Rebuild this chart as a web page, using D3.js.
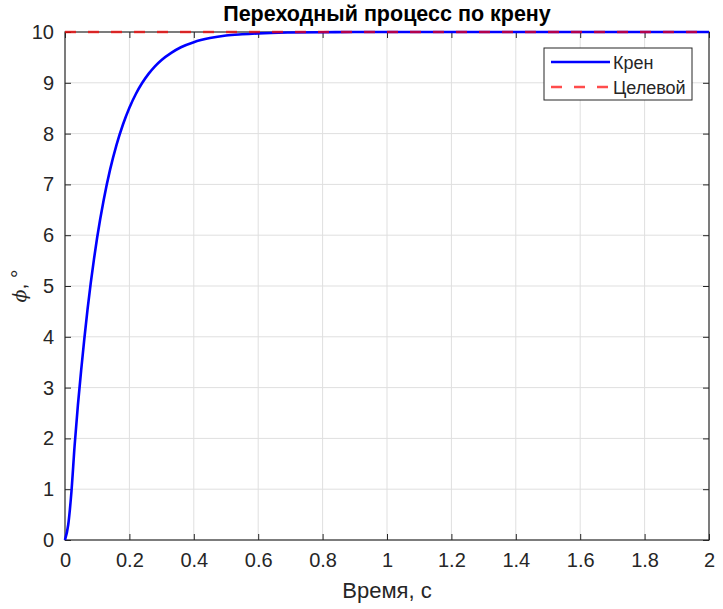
<!DOCTYPE html>
<html>
<head>
  <meta charset="utf-8">
  <script src="https://cdn.jsdelivr.net/npm/d3@7"></script>
  <style>
    body { margin: 0; background: #fff; }
    text { font-family: "Liberation Sans", Arial, sans-serif; fill: #262626; }
  </style>
</head>
<body>
<script>
// values
var timeS = [0, 0.01, 0.02, 0.03, 0.04, 0.05, 0.06, 0.07, 0.08, 0.09, 0.10,
             0.12, 0.14, 0.16, 0.18, 0.20, 0.22, 0.24, 0.26, 0.28, 0.30,
             0.33, 0.36, 0.40, 0.45, 0.50, 0.55, 0.60, 0.70, 0.80, 0.90, 1.0, 1.5, 2.0];
var rollDeg = [0, 0.3, 0.95, 1.87, 2.65, 3.33, 3.96, 4.54, 5.06, 5.53, 5.96,
               6.69, 7.29, 7.78, 8.18, 8.51, 8.78, 9.0, 9.18, 9.33, 9.45,
               9.59, 9.7, 9.8, 9.88, 9.93, 9.955, 9.973, 9.99, 9.996, 10, 10, 10, 10];
var targetDeg = 10;
var xTicks = [0, 0.2, 0.4, 0.6, 0.8, 1, 1.2, 1.4, 1.6, 1.8, 2];
var yTicks = [0, 1, 2, 3, 4, 5, 6, 7, 8, 9, 10];
var seriesNames = ["Крен", "Целевой"];

var W = 723, H = 609;
var pLeft = 65, pRight = 709, pTop = 32, pBottom = 540;

var svg = d3.select("body").append("svg")
  .attr("width", W).attr("height", H);

var x = d3.scaleLinear().domain([0, 2]).range([pLeft, pRight]);
var y = d3.scaleLinear().domain([0, 10]).range([pBottom, pTop]);

/*
  grid
*/
svg.append("g").selectAll("line").data(xTicks.slice(1, -1)).enter().append("line")
  .attr("x1", function (d) { return x(d); }).attr("x2", function (d) { return x(d); })
  .attr("y1", pTop).attr("y2", pBottom)
  .style("stroke", "#dfdfdf").style("stroke-width", 1);
svg.append("g").selectAll("line").data(yTicks.slice(1, -1)).enter().append("line")
  .attr("y1", function (d) { return y(d); }).attr("y2", function (d) { return y(d); })
  .attr("x1", pLeft).attr("x2", pRight)
  .style("stroke", "#dfdfdf").style("stroke-width", 1);

/*
  axes (ticks inside, box on)
*/
function styleAxis(g) {
  g.select(".domain").remove();
  g.selectAll(".tick line").style("stroke", "#262626");
  g.selectAll("text").style("font-family", "Liberation Sans, Arial, sans-serif")
    .style("font-size", "20px").style("fill", "#262626");
}
svg.append("g").attr("transform", "translate(0," + pBottom + ")")
  .call(d3.axisBottom(x).tickValues(xTicks).tickSizeInner(-6).tickSizeOuter(0).tickPadding(13)
    .tickFormat(d3.format("~g")))
  .call(styleAxis);
svg.append("g").attr("transform", "translate(0," + pTop + ")")
  .call(d3.axisTop(x).tickValues(xTicks).tickSizeInner(-6).tickSizeOuter(0).tickFormat(""))
  .call(styleAxis);
svg.append("g").attr("transform", "translate(" + pLeft + ",0)")
  .call(d3.axisLeft(y).tickValues(yTicks).tickSizeInner(-6).tickSizeOuter(0).tickPadding(11))
  .call(styleAxis);
svg.append("g").attr("transform", "translate(" + pRight + ",0)")
  .call(d3.axisRight(y).tickValues(yTicks).tickSizeInner(-6).tickSizeOuter(0).tickFormat(""))
  .call(styleAxis);

svg.append("rect")
  .attr("x", pLeft).attr("y", pTop).attr("width", pRight - pLeft).attr("height", pBottom - pTop)
  .style("fill", "none").style("stroke", "#262626").style("stroke-width", 1.2);

/*
  series
*/
var line = d3.line()
  .curve(d3.curveMonotoneX)
  .x(function (d) { return x(d[0]); })
  .y(function (d) { return y(d[1]); });

svg.append("path")
  .datum(d3.zip(timeS, rollDeg))
  .attr("d", line)
  .style("fill", "none").style("stroke", "#0000ff").style("stroke-width", 2.6);

svg.append("path")
  .datum([[0, targetDeg], [2, targetDeg]])
  .attr("d", line)
  .style("fill", "none").style("stroke", "#ff0000").style("stroke-opacity", 0.7)
  .style("stroke-width", 2.6).style("stroke-dasharray", "11,12");

/*
  titles
*/
svg.append("text").attr("x", (pLeft + pRight) / 2).attr("y", 21)
  .attr("text-anchor", "middle").style("font-size", "21.5px").style("font-weight", "bold")
  .style("fill", "#000").text("Переходный процесс по крену");
svg.append("text").attr("x", (pLeft + pRight) / 2).attr("y", 598)
  .attr("text-anchor", "middle").style("font-size", "22px").text("Время, с");
svg.append("text").attr("transform", "translate(26,286) rotate(-90)")
  .attr("text-anchor", "middle").style("font-size", "21px")
  .call(function (t) {
    t.append("tspan").style("font-family", "DejaVu Serif, serif").style("font-style", "italic")
      .style("font-size", "19px").text("ϕ");
    t.append("tspan").text(", °");
  });

/*
  legend
*/
var lg = svg.append("g").attr("transform", "translate(544,48)");
lg.append("rect").attr("width", 148).attr("height", 52)
  .style("fill", "#fff").style("stroke", "#262626").style("stroke-width", 1);
var rows = lg.selectAll("g.row").data(seriesNames).enter().append("g")
  .attr("transform", function (d, i) { return "translate(0," + (14 + i * 25) + ")"; });
rows.append("line").attr("x1", 7).attr("x2", 66).attr("y1", 0).attr("y2", 0)
  .style("stroke", function (d, i) { return i ? "#ff0000" : "#0000ff"; })
  .style("stroke-opacity", function (d, i) { return i ? 0.7 : 1; })
  .style("stroke-width", 2.6)
  .style("stroke-dasharray", function (d, i) { return i ? "11,12" : null; });
rows.append("text").attr("x", 69).attr("y", 7).style("font-size", "18px").text(function (d) { return d; });
</script>
</body>
</html>
